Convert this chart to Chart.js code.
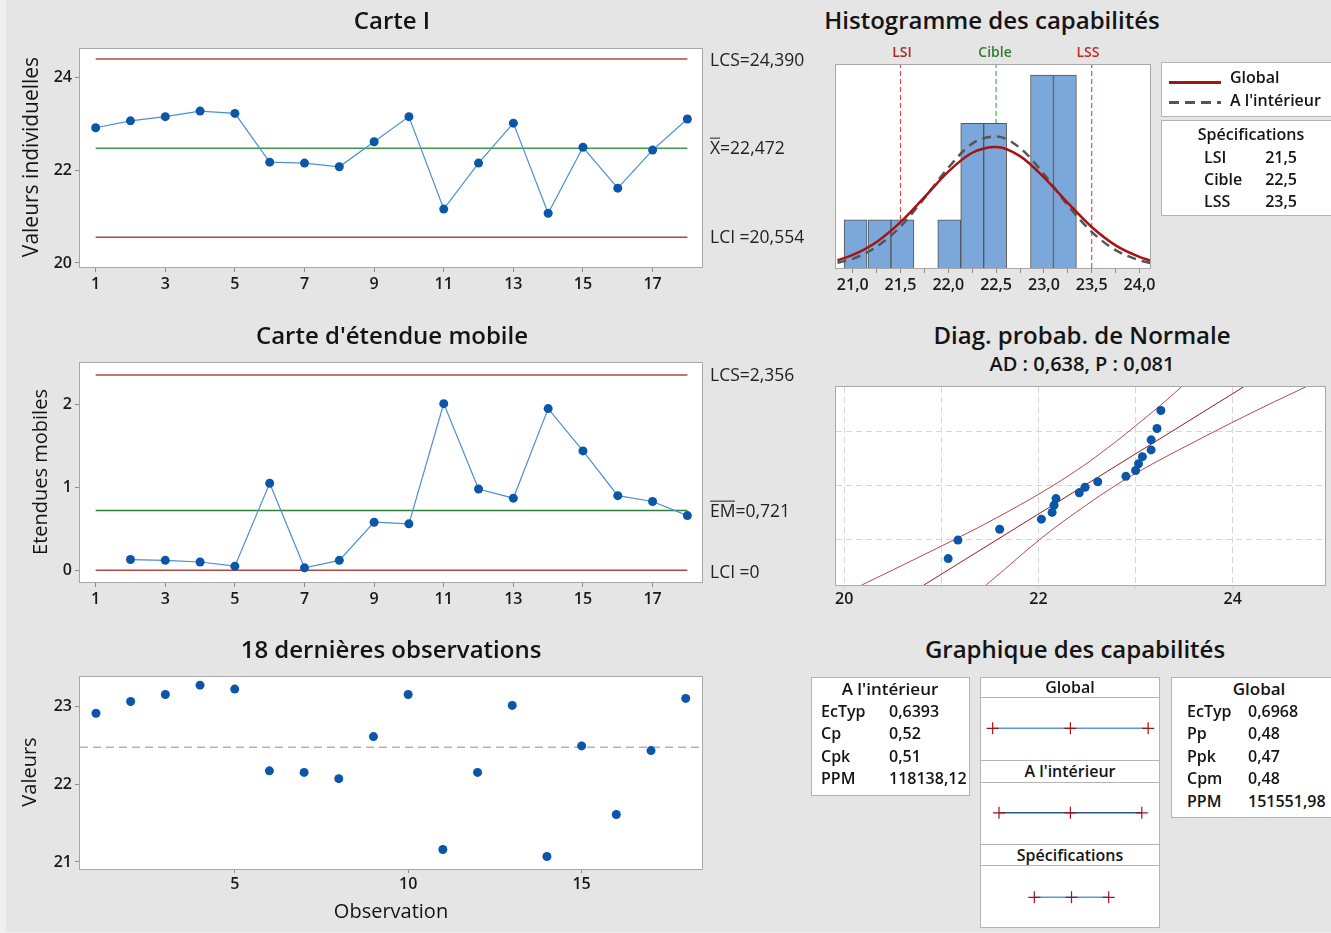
<!DOCTYPE html>
<html><head><meta charset="utf-8">
<script src="https://cdn.jsdelivr.net/npm/chart.js@4.4.1/dist/chart.umd.min.js"></script>
<style>
html,body{margin:0;padding:0;}
body{width:1331px;height:933px;position:relative;background:#f0f0f0;overflow:hidden;font-family:"Open Sans",sans-serif;color:#141414;}
#panel{position:absolute;left:6px;top:0;width:1325px;height:932px;background:#e5e5e5;}
canvas{position:absolute;}
.t{position:absolute;white-space:nowrap;transform:translate(-50%,-50%);line-height:1.3;}
.l{position:absolute;white-space:nowrap;transform:translate(0,-50%);line-height:1.3;}
.title{font-size:24px;font-weight:600;}
.sub{font-size:20px;font-weight:600;}
.ax{font-size:20px;font-weight:400;}
.rot{transform:translate(-50%,-50%) rotate(-90deg);}
.lim{font-size:17.5px;font-weight:400;color:#222;}
.spec{font-size:14px;font-weight:600;}
.box{position:absolute;background:#fff;border:1px solid #b4b4b4;box-sizing:border-box;z-index:2;}
.bt{font-size:16px;font-weight:600;}
.ov{display:inline-block;line-height:1;border-top:1.2px solid #222;}
</style>
</head><body>
<div id="panel"></div>
<script>
// ---------- DATA ----------
const observations = [1,2,3,4,5,6,7,8,9,10,11,12,13,14,15,16,17,18];
const individualValues = [22.91,23.06,23.15,23.27,23.22,22.17,22.15,22.07,22.61,23.15,21.16,22.15,23.01,21.07,22.49,21.61,22.43,23.10];
const movingRangeObs = [2,3,4,5,6,7,8,9,10,11,12,13,14,15,16,17,18];
const movingRanges = [0.13,0.12,0.10,0.05,1.05,0.03,0.12,0.58,0.56,2.01,0.98,0.87,1.95,1.44,0.90,0.83,0.66];
const iUCL = 24.390, iCL = 22.472, iLCL = 20.554;
const mrUCL = 2.356, mrCL = 0.721, mrLCL = 0;
const controlTicksX = [1,3,5,7,9,11,13,15,17];
const iTicksY = [20,22,24];
const mrTicksY = [0,1,2];
const obsTicksX = [5,10,15];
const obsTicksY = [21,22,23];

const histBinCenters = [21.03,21.28,21.52,21.76,22.01,22.25,22.49,22.74,22.98,23.22];
const histCounts = [1,1,1,0,1,3,3,0,4,4];
const curveX = [20.84,21.0,21.25,21.5,21.75,22.0,22.25,22.5,22.75,23.0,23.25,23.5,23.75,24.0,24.12];
const curveGlobal = [0.16,0.27,0.54,0.95,1.47,2.00,2.39,2.51,2.32,1.88,1.35,0.85,0.47,0.23,0.15];
const curveWithin = [0.11,0.19,0.44,0.86,1.45,2.08,2.58,2.73,2.49,1.95,1.30,0.75,0.37,0.16,0.10];
const specLSI = 21.5, specTarget = 22.5, specLSS = 23.5;
const histTicks = [21,21.25,21.5,21.75,22,22.25,22.5,22.75,23,23.25,23.5,23.75,24];

const probX = [21.07,21.17,21.60,22.03,22.14,22.16,22.18,22.42,22.48,22.61,22.90,23.00,23.03,23.07,23.16,23.16,23.22,23.26];
const probZ = [-1.74,-1.30,-1.04,-0.80,-0.64,-0.47,-0.31,-0.17,-0.04,0.09,0.22,0.36,0.52,0.69,0.85,1.09,1.36,1.79];
const fitX = [20.82,24.11];
const fitZ = [-2.37,2.35];
const bandZ = [-2.37,-2,-1.5,-1,-0.5,0,0.5,1,1.5,2,2.35];
const bandLowerX = [20.18,20.51,20.95,21.38,21.78,22.15,22.48,22.77,23.04,23.30,23.47];
const bandUpperX = [21.46,21.65,21.90,22.17,22.47,22.79,23.16,23.57,23.99,24.43,24.75];
const probTicksX = [20,21,22,23,24];
const probLabelsX = [20,22,24];
const probGridZ = [-1.28,0,1.28];

const capGlobal = [20.38,22.47,24.56];
const capWithin = [20.55,22.47,24.39];
const capSpec = [21.5,22.5,23.5];

const withinLabels = ['EcTyp','Cp','Cpk','PPM'];
const withinValues = ['0,6393','0,52','0,51','118138,12'];
const globalLabels = ['EcTyp','Pp','Ppk','Cpm','PPM'];
const globalValues = ['0,6968','0,48','0,47','0,48','151551,98'];
const specLabels = ['LSI','Cible','LSS'];
const specValues = ['21,5','22,5','23,5'];

// ---------- HELPERS ----------
const FONT = "'Open Sans', sans-serif";
Chart.defaults.font.family = FONT;
const framePlugin = {
  id:'frame',
  beforeDraw(chart){
    const o = chart.options.plugins.frame || {};
    if (o.noFill) return;
    const {ctx, chartArea:a} = chart;
    ctx.save(); ctx.fillStyle='#fff'; ctx.fillRect(a.left,a.top,a.right-a.left,a.bottom-a.top); ctx.restore();
  },
  afterDraw(chart){
    const o = chart.options.plugins.frame || {};
    if (o.noBorder) return;
    const {ctx, chartArea:a} = chart;
    ctx.save(); ctx.strokeStyle='#a8a8a8'; ctx.lineWidth=1;
    ctx.strokeRect(Math.round(a.left)-0.5, Math.round(a.top)-0.5, Math.round(a.right-a.left)+1, Math.round(a.bottom-a.top)+1);
    ctx.restore();
  }
};
Chart.register(framePlugin);

function mkCanvas(left, top, w, h){
  const c = document.createElement('canvas');
  c.width = w; c.height = h;
  c.style.left = left+'px'; c.style.top = top+'px';
  c.style.width = w+'px'; c.style.height = h+'px';
  document.body.appendChild(c);
  return c;
}
function axis(min, max, ticks, o){
  o = o || {};
  return {
    type:'linear', min, max, reverse: !!o.reverse, display: o.display !== false,
    position: o.position,
    afterBuildTicks: s => { s.ticks = ticks.map(v => ({value:v})); },
    afterFit: s => { if (o.size !== undefined) { if (s.isHorizontal()) s.height = o.size; else s.width = o.size; } },
    ticks:{ display: o.labels !== false, autoSkip:false, maxRotation:0, padding: o.pad ?? 3, color:'#1a1a1a',
      font:{family:FONT, size:16, weight:'600'}, callback: o.fmt || (v => String(v)) },
    grid:{ display:true, drawOnChartArea: !!o.grid, drawTicks: (o.tickLen ?? 5) > 0, tickLength: o.tickLen ?? 5,
      color: o.gridColor || '#8c8c8c', lineWidth:1 },
    border:{ display:false, dash: o.dash || [] }
  };
}
function baseOpts(xs, ys, pad){
  return {
    responsive:false, animation:false, devicePixelRatio:1,
    layout:{ padding: pad, autoPadding:false },
    plugins:{ legend:{display:false}, tooltip:{enabled:false} },
    scales:{ x: xs, y: ys }
  };
}
const pts = (xs, ys) => xs.map((x,i) => ({x, y: ys[i]}));
const hline = (x0, x1, y) => [{x:x0,y},{x:x1,y}];
const PT = '#0b56a8', LN = '#4b8fd6', LIM = '#b44545', CLG = '#3d9a48';

function txt(str, x, y, cls, extra){
  const d = document.createElement('div');
  d.className = cls; d.innerHTML = str;
  d.style.left = x+'px'; d.style.top = y+'px';
  if (extra) Object.assign(d.style, extra);
  document.body.appendChild(d);
  return d;
}

// ---------- CARTE I ----------
{
  const xs = axis(0.55, 18.42, controlTicksX, {size:33});
  const ys = axis(19.913, 24.606, iTicksY, {size:50, position:'left'});
  const first = observations[0], last = observations[observations.length-1];
  new Chart(mkCanvas(30,33,690,267), {
    type:'line',
    data:{ datasets:[
      {data:pts(observations, individualValues), borderColor:LN, borderWidth:1.2, pointRadius:4.5, pointBackgroundColor:PT, pointBorderColor:PT, pointBorderWidth:0, order:1},
      {data:hline(first,last,iUCL), borderColor:LIM, borderWidth:1.5, pointRadius:0, order:2},
      {data:hline(first,last,iLCL), borderColor:LIM, borderWidth:1.5, pointRadius:0, order:2},
      {data:hline(first,last,iCL), borderColor:CLG, borderWidth:1.5, pointRadius:0, order:2}
    ]},
    options: baseOpts(xs, ys, {left:0, top:16, right:18, bottom:0})
  });
}
// ---------- CARTE MR ----------
{
  const xs = axis(0.55, 18.42, controlTicksX, {size:32});
  const ys = axis(-0.141, 2.50, mrTicksY, {size:50, position:'left'});
  const first = observations[0], last = observations[observations.length-1];
  new Chart(mkCanvas(30,347,690,267), {
    type:'line',
    data:{ datasets:[
      {data:pts(movingRangeObs, movingRanges), borderColor:LN, borderWidth:1.2, pointRadius:4.5, pointBackgroundColor:PT, pointBorderColor:PT, pointBorderWidth:0, order:1},
      {data:hline(first,last,mrUCL), borderColor:LIM, borderWidth:1.5, pointRadius:0, order:2},
      {data:hline(first,last,mrLCL), borderColor:LIM, borderWidth:1.5, pointRadius:0, order:2},
      {data:hline(first,last,mrCL), borderColor:'#2f7d3a', borderWidth:1.3, pointRadius:0, order:2}
    ]},
    options: baseOpts(xs, ys, {left:0, top:16, right:18, bottom:0})
  });
}
// ---------- 18 DERNIERES OBSERVATIONS ----------
{
  const xmin = 0.54, xmax = 18.47;
  const xs = axis(xmin, xmax, obsTicksX, {size:34, tickLen:4, pad:2});
  const ys = axis(20.91, 23.375, obsTicksY, {size:50, position:'left'});
  new Chart(mkCanvas(30,661,690,242), {
    type:'scatter',
    data:{ datasets:[
      {data:pts(observations, individualValues), showLine:false, pointRadius:4.5, pointBackgroundColor:PT, pointBorderColor:PT, pointBorderWidth:0, order:1},
      {data:hline(xmin,xmax,iCL), showLine:true, borderColor:'#b4b4b4', borderWidth:1.5, borderDash:[8,5], pointRadius:0, order:2}
    ]},
    options: baseOpts(xs, ys, {left:0, top:16, right:18, bottom:0})
  });
}
// ---------- HISTOGRAMME ----------
{
  const comma = v => (Math.abs(v*2 - Math.round(v*2)) < 1e-6) ? v.toFixed(1).replace('.', ',') : '';
  const xs = axis(20.825, 24.11, histTicks, {size:28, fmt:comma});
  xs.offset = false; xs.grid.offset = false;
  const ys = {type:'linear', min:0, max:4.21, display:false};
  const top = ys.max;
  new Chart(mkCanvas(826,56,340,240), {
    type:'bar',
    data:{ datasets:[
      {type:'bar', data:pts(histBinCenters, histCounts), backgroundColor:'#7ba7da', borderColor:'#555', borderWidth:1, barPercentage:1, categoryPercentage:1, order:2},
      {type:'line', data:[{x:specLSI,y:0},{x:specLSI,y:top}], borderColor:'#e8474a', borderWidth:1.2, borderDash:[5,3], pointRadius:0, order:3},
      {type:'line', data:[{x:specTarget,y:0},{x:specTarget,y:top}], borderColor:'#4caf50', borderWidth:1.2, borderDash:[5,3], pointRadius:0, order:3},
      {type:'line', data:[{x:specLSS,y:0},{x:specLSS,y:top}], borderColor:'#e8474a', borderWidth:1.2, borderDash:[5,3], pointRadius:0, order:3},
      {type:'line', data:pts(curveX, curveWithin), borderColor:'#555', borderWidth:2.5, borderDash:[9,6], pointRadius:0, cubicInterpolationMode:'monotone', order:1},
      {type:'line', data:pts(curveX, curveGlobal), borderColor:'#a31515', borderWidth:2.5, pointRadius:0, cubicInterpolationMode:'monotone', order:0}
    ]},
    options: baseOpts(xs, ys, {left:10, top:9, right:16, bottom:0})
  });
}
// ---------- DIAG PROBAB ----------
{
  const xs = axis(19.915, 24.95, probTicksX, {size:33, tickLen:4, pad:1, grid:true, gridColor:'#d6d6d6', dash:[6,4],
    fmt: v => probLabelsX.includes(v) ? String(v) : ''});
  const ys = axis(-2.37, 2.35, probGridZ, {size:0, labels:false, tickLen:0, grid:true, gridColor:'#d6d6d6', dash:[6,4], position:'left'});
  new Chart(mkCanvas(826,378,505,240), {
    type:'scatter',
    data:{ datasets:[
      {data:pts(probX, probZ), showLine:false, pointRadius:4.5, pointBackgroundColor:PT, pointBorderColor:PT, pointBorderWidth:0, order:1},
      {data:pts(fitX, fitZ), showLine:true, borderColor:'#9e1b1b', borderWidth:1, pointRadius:0, order:2},
      {data:pts(bandLowerX, bandZ), showLine:true, borderColor:'#b94a4a', borderWidth:1, pointRadius:0, cubicInterpolationMode:'monotone', order:2},
      {data:pts(bandUpperX, bandZ), showLine:true, borderColor:'#b94a4a', borderWidth:1, pointRadius:0, cubicInterpolationMode:'monotone', order:2}
    ]},
    options: baseOpts(xs, ys, {left:10, top:9, right:6, bottom:0})
  });
}
// ---------- GRAPHIQUE DES CAPABILITES ----------
{
  const capBox = document.createElement('div');
  capBox.className = 'box'; capBox.style.zIndex = 0;
  Object.assign(capBox.style, {left:'980px', top:'677px', width:'180px', height:'251px'});
  document.body.appendChild(capBox);
  const xs = {type:'linear', min:20.067, max:24.852, display:false};
  const ys = {type:'linear', min:0.405, max:3.351, reverse:true, display:false};
  const row = (vals, r) => vals.map(x => ({x, y:r}));
  const cross = {pointStyle:'cross', pointRadius:6, pointBorderColor:'#a31515', pointBorderWidth:1.2, pointBackgroundColor:'#a31515'};
  const o = baseOpts(xs, ys, 0);
  o.plugins.frame = {noFill:true, noBorder:true};
  const c = mkCanvas(981,678,178,249); c.style.zIndex = 1;
  new Chart(c, {
    type:'line',
    data:{ datasets:[
      Object.assign({data:row(capGlobal,1), borderColor:'#5b9bd5', borderWidth:1.5}, cross),
      Object.assign({data:row(capWithin,2), borderColor:'#2b5797', borderWidth:1.5}, cross),
      Object.assign({data:row(capSpec,3), borderColor:'#5b9bd5', borderWidth:1.5}, cross)
    ]},
    options:o
  });
  const hdr = (label, top, h) => {
    const d = document.createElement('div'); d.className='box';
    Object.assign(d.style, {left:'980px', top:top+'px', width:'180px', height:h+'px', textAlign:'center', fontSize:'16px', fontWeight:'600', lineHeight:(h-2)+'px'});
    d.textContent = label; document.body.appendChild(d);
  };
  hdr('Global', 677, 21);
  hdr("A l'intérieur", 760, 23);
  hdr('Spécifications', 844, 22);
}

// ---------- TEXTS ----------
txt('Carte I', 392, 20, 't title');
txt('Histogramme des capabilités', 992, 20, 't title');
txt("Carte d'étendue mobile", 392, 335, 't title');
txt('Diag. probab. de Normale', 1082, 335, 't title');
txt('AD : 0,638, P : 0,081', 1082, 364, 't sub');
txt('18 dernières observations', 391, 649, 't title');
txt('Graphique des capabilités', 1075, 649, 't title');

txt('Valeurs individuelles', 31, 157, 't ax rot', {fontSize:'21px'});
txt('Etendues mobiles', 40, 472, 't ax rot');
txt('Valeurs', 29, 772, 't ax rot');
txt('Observation', 391, 911, 't ax');

txt('LCS=24,390', 710, 59, 'l lim');
txt('<span class="ov">X</span>=22,472', 710, 147, 'l lim');
txt('LCI =20,554', 710, 236, 'l lim');
txt('LCS=2,356', 710, 374, 'l lim');
txt('<span class="ov">EM</span>=0,721', 710, 510, 'l lim');
txt('LCI =0', 710, 571, 'l lim');

txt('LSI', 902, 52, 't spec', {color:'#a52a2a'});
txt('Cible', 995, 52, 't spec', {color:'#2e7d32'});
txt('LSS', 1088, 52, 't spec', {color:'#c62828'});

// histogram legend boxes
{
  const b1 = document.createElement('div'); b1.className='box';
  Object.assign(b1.style, {left:'1161px', top:'62px', width:'185px', height:'55px'});
  b1.innerHTML = '<svg width="60" height="50" style="position:absolute;left:6px;top:0">'+
    '<line x1="1" y1="19.5" x2="53" y2="19.5" stroke="#a31515" stroke-width="3"/>'+
    '<line x1="1" y1="39.5" x2="53" y2="39.5" stroke="#555" stroke-width="3" stroke-dasharray="10,6"/></svg>';
  document.body.appendChild(b1);
  const b2 = document.createElement('div'); b2.className='box';
  Object.assign(b2.style, {left:'1161px', top:'120px', width:'185px', height:'96px'});
  document.body.appendChild(b2);
  const l1 = txt('Global', 1230, 77, 'l bt'); l1.style.zIndex=3;
  const l2 = txt("A l'intérieur", 1230, 100, 'l bt'); l2.style.zIndex=3;
  const h = txt('Spécifications', 1251, 134, 't bt'); h.style.zIndex=3;
  specLabels.forEach((s,i) => {
    const a = txt(s, 1204, 157 + i*22, 'l bt'); a.style.zIndex=3;
    const v = txt(specValues[i], 1297, 157 + i*22, 'l bt', {transform:'translate(-100%,-50%)'}); v.style.zIndex=3;
  });
}
// stats boxes
{
  const bl = document.createElement('div'); bl.className='box';
  Object.assign(bl.style, {left:'811px', top:'677px', width:'159px', height:'119px'});
  document.body.appendChild(bl);
  txt("A l'intérieur", 890, 689, 't bt', {fontSize:'17px'}).style.zIndex=3;
  withinLabels.forEach((s,i) => {
    txt(s, 821, 711 + i*22.4, 'l bt').style.zIndex=3;
    txt(withinValues[i], 889, 711 + i*22.4, 'l bt').style.zIndex=3;
  });
  const br = document.createElement('div'); br.className='box';
  Object.assign(br.style, {left:'1171px', top:'677px', width:'176px', height:'141px'});
  document.body.appendChild(br);
  txt('Global', 1259, 689, 't bt', {fontSize:'17px'}).style.zIndex=3;
  globalLabels.forEach((s,i) => {
    txt(s, 1187, 711 + i*22.4, 'l bt').style.zIndex=3;
    txt(globalValues[i], 1248, 711 + i*22.4, 'l bt').style.zIndex=3;
  });
}
</script>
</body></html>
